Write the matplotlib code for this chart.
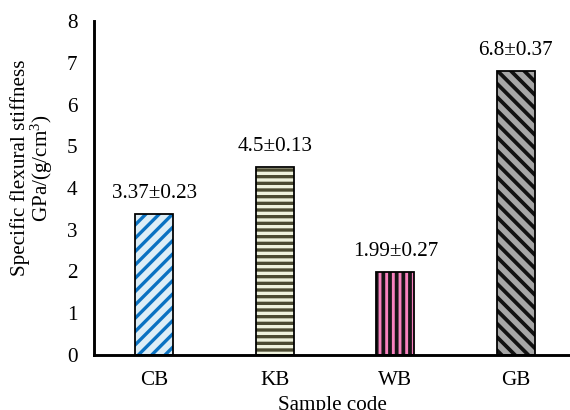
import matplotlib
matplotlib.use("Agg")
import matplotlib.pyplot as plt

samples = ["CB", "KB", "WB", "GB"]
means = [3.37, 4.5, 1.99, 6.8]
sds = [0.23, 0.13, 0.27, 0.37]

face_colors = ["#ddeef7", "#eef1dc", "#f882bf", "#a6a6a6"]
hatch_colors = ["#0a72c2", "#4a4930", "#151515", "#111111"]
hatches = ["//", "--", "||", "\\\\"]
hatch_lws = [3.0, 3.0, 3.4, 3.4]

plt.rcParams["font.family"] = ["Liberation Serif", "DejaVu Serif"]
plt.rcParams["mathtext.fontset"] = "custom"
plt.rcParams["mathtext.rm"] = "Liberation Serif"
plt.rcParams["mathtext.it"] = "Liberation Serif:italic"

fig = plt.figure(figsize=(7.125, 5.125), dpi=80)
ax = fig.add_axes([94 / 570, 1 - 355 / 410, 1 - 94 / 570, (355 - 21) / 410])

x = list(range(len(samples)))
width = 0.315
for i in x:
    with plt.rc_context({"hatch.linewidth": hatch_lws[i]}):
        b = ax.bar(x[i], means[i], width, color=face_colors[i], edgecolor=hatch_colors[i],
                   hatch=hatches[i], linewidth=0, zorder=2)
    for p in b:
        if hasattr(p, "set_hatch_linewidth"):
            p.set_hatch_linewidth(hatch_lws[i])
    ax.bar(x[i], means[i], width, fill=False, edgecolor="black", linewidth=1.6, zorder=3)
    ax.annotate(f"{means[i]}±{sds[i]}", (x[i], means[i]), xytext=(0, 10),
                textcoords="offset points", ha="center", va="bottom", fontsize=19)

ax.set_xlim(-0.5, 3.45)
ax.set_ylim(0, 8)
ax.set_yticks(range(0, 9))
ax.set_xticks(x)
ax.set_xticklabels(samples)
ax.tick_params(axis="both", length=0, labelsize=19)
ax.tick_params(axis="y", pad=15)
ax.tick_params(axis="x", pad=14)
for s in ["top", "right"]:
    ax.spines[s].set_visible(False)
for s in ["left", "bottom"]:
    ax.spines[s].set_linewidth(2.6)
    ax.spines[s].set_capstyle("projecting")

ax.set_ylabel("Specific flexural stiffness\nGPa/(g/cm$^3$)", fontsize=19, linespacing=0.95)
ax.yaxis.set_label_coords(-0.082, 0.56)
ax.set_xlabel("Sample code", fontsize=19)
ax.xaxis.set_label_coords(0.5, -0.124)

fig.savefig("out.png", dpi=80)
